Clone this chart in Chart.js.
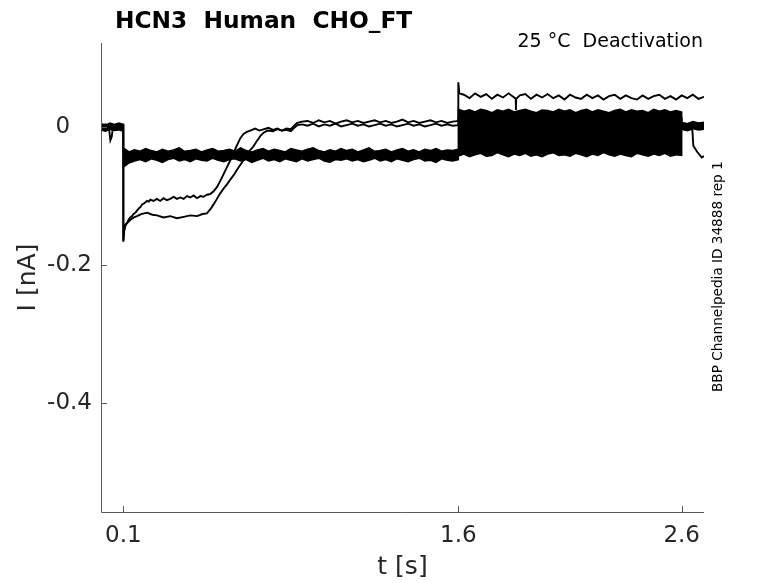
<!DOCTYPE html>
<html>
<head>
<meta charset="utf-8">
<script src="https://cdn.jsdelivr.net/npm/chart.js@4/dist/chart.umd.min.js"></script>
<style>
  html, body { margin: 0; padding: 0; background: #fff; overflow: hidden; }
</style>
</head>
<body>
<canvas id="trace" width="778" height="583"></canvas>
<script>
// tick labels
const xTicks = [0.1, 1.6, 2.6]
const yTicks = [0, -0.2, -0.4]

// sample times of the fast sweeps (s)
const tPre = [0, 0.02, 0.04, 0.06, 0.08, 0.1]
const tHold = [
    0.1, 0.125, 0.15, 0.175, 0.2, 0.225, 0.25, 0.275, 0.3, 0.325,
    0.35, 0.375, 0.4, 0.425, 0.45, 0.475, 0.5, 0.525, 0.55, 0.575,
    0.6, 0.625, 0.65, 0.675, 0.7, 0.725, 0.75, 0.775, 0.8, 0.825,
    0.85, 0.875, 0.9, 0.925, 0.95, 0.975, 1.0, 1.025, 1.05, 1.075,
    1.1, 1.125, 1.15, 1.175, 1.2, 1.225, 1.25, 1.275, 1.3, 1.325,
    1.35, 1.375, 1.4, 1.425, 1.45, 1.475, 1.5, 1.525, 1.55, 1.575, 1.6
]
const tTest = [
    1.6, 1.625, 1.65, 1.675, 1.7, 1.725, 1.75, 1.775, 1.8, 1.825,
    1.85, 1.875, 1.9, 1.925, 1.95, 1.975, 2.0, 2.025, 2.05, 2.075,
    2.1, 2.125, 2.15, 2.175, 2.2, 2.225, 2.25, 2.275, 2.3, 2.325,
    2.35, 2.375, 2.4, 2.425, 2.45, 2.475, 2.5, 2.525, 2.55, 2.575, 2.6
]
const tPost = [2.6, 2.625, 2.65, 2.675, 2.7]

// upper / lower edge of the bundle of fast sweeps (nA)
const upPre = [0.005, 0.003, 0.006, 0.004, 0.006, 0.004]
const loPre = [-0.004, -0.006, -0.003, -0.005, -0.004, -0.006]
const upHold = [
    -0.030, -0.036, -0.033, -0.035, -0.031, -0.034, -0.036, -0.032, -0.035, -0.033,
    -0.030, -0.035, -0.034, -0.032, -0.036, -0.033, -0.031, -0.035, -0.034, -0.032,
    -0.035, -0.030, -0.034, -0.036, -0.033, -0.031, -0.035, -0.032, -0.034, -0.036,
    -0.031, -0.033, -0.035, -0.032, -0.030, -0.034, -0.036, -0.033, -0.035, -0.031,
    -0.034, -0.032, -0.036, -0.033, -0.030, -0.035, -0.034, -0.032, -0.036, -0.033,
    -0.031, -0.035, -0.033, -0.036, -0.032, -0.034, -0.031, -0.035, -0.033, -0.034, -0.032
]
const loHold = [
    -0.058, -0.052, -0.049, -0.047, -0.050, -0.046, -0.048, -0.051, -0.047, -0.045,
    -0.049, -0.047, -0.050, -0.046, -0.048, -0.049, -0.045, -0.048, -0.050, -0.047,
    -0.046, -0.049, -0.047, -0.051, -0.048, -0.045, -0.049, -0.047, -0.050, -0.046,
    -0.048, -0.050, -0.046, -0.049, -0.047, -0.045, -0.049, -0.051, -0.047, -0.048,
    -0.046, -0.049, -0.047, -0.050, -0.048, -0.045, -0.049, -0.047, -0.050, -0.046,
    -0.048, -0.050, -0.047, -0.045, -0.049, -0.048, -0.051, -0.046, -0.048, -0.049, -0.047
]
const upTest = [
    0.026, 0.023, 0.025, 0.022, 0.026, 0.024, 0.021, 0.025, 0.023, 0.026,
    0.022, 0.024, 0.026, 0.023, 0.021, 0.025, 0.024, 0.022, 0.026, 0.023,
    0.025, 0.021, 0.024, 0.026, 0.022, 0.025, 0.023, 0.021, 0.024, 0.026,
    0.022, 0.025, 0.023, 0.024, 0.021, 0.026, 0.023, 0.025, 0.022, 0.024, 0.022
]
const loTest = [
    -0.042, -0.039, -0.043, -0.040, -0.038, -0.042, -0.041, -0.037, -0.040, -0.043,
    -0.039, -0.041, -0.038, -0.042, -0.040, -0.043, -0.039, -0.037, -0.041, -0.040,
    -0.042, -0.038, -0.040, -0.043, -0.039, -0.041, -0.037, -0.040, -0.042, -0.039,
    -0.041, -0.043, -0.038, -0.040, -0.042, -0.039, -0.041, -0.038, -0.042, -0.040, -0.041
]
const upPost = [0.007, 0.005, 0.008, 0.006, 0.007]
const loPost = [-0.003, -0.005, -0.002, -0.004, -0.003]

// slow sweeps, [t, I]
const sweepA = [
    [0, 0.002], [0.02, 0.004], [0.035, 0.001], [0.042, -0.019], [0.048, -0.014], [0.054, 0.001],
    [0.07, 0.004], [0.085, 0.001], [0.1, 0.003],
    [0.1, -0.166], [0.104, -0.150], [0.11, -0.142], [0.117, -0.139], [0.124, -0.134], [0.131, -0.131],
    [0.139, -0.129], [0.146, -0.126], [0.154, -0.124], [0.161, -0.121], [0.169, -0.118], [0.176, -0.116],
    [0.184, -0.112], [0.191, -0.111], [0.199, -0.109], [0.206, -0.107], [0.214, -0.108], [0.221, -0.105],
    [0.235, -0.107], [0.25, -0.104], [0.265, -0.107], [0.28, -0.103], [0.295, -0.106], [0.31, -0.104],
    [0.325, -0.101], [0.34, -0.104], [0.355, -0.102], [0.37, -0.104], [0.385, -0.100], [0.4, -0.102],
    [0.415, -0.099], [0.43, -0.103], [0.445, -0.100], [0.459, -0.101], [0.474, -0.098], [0.489, -0.097],
    [0.504, -0.093], [0.519, -0.087], [0.534, -0.078], [0.549, -0.068], [0.564, -0.058], [0.579, -0.048],
    [0.594, -0.037], [0.609, -0.026], [0.624, -0.016], [0.638, -0.010], [0.653, -0.007], [0.668, -0.005],
    [0.69, -0.002], [0.71, -0.005], [0.73, -0.003], [0.75, -0.001], [0.77, -0.004], [0.79, -0.002],
    [0.81, -0.005], [0.83, -0.002], [0.85, -0.003], [0.865, 0.002], [0.877, 0.006], [0.9, 0.008],
    [0.925, 0.009], [0.95, 0.006], [0.975, 0.010], [1.0, 0.007], [1.025, 0.009], [1.05, 0.005],
    [1.075, 0.008], [1.1, 0.010], [1.125, 0.007], [1.15, 0.009], [1.175, 0.006], [1.2, 0.008],
    [1.225, 0.010], [1.25, 0.007], [1.275, 0.009], [1.3, 0.006], [1.325, 0.008], [1.35, 0.011],
    [1.375, 0.007], [1.4, 0.009], [1.425, 0.006], [1.45, 0.008], [1.475, 0.010], [1.5, 0.007],
    [1.525, 0.009], [1.55, 0.006], [1.575, 0.008], [1.6, 0.009],
    [1.6, 0.065], [1.604, 0.049], [1.625, 0.047], [1.65, 0.042], [1.675, 0.049], [1.7, 0.044],
    [1.725, 0.048], [1.75, 0.041], [1.775, 0.047], [1.8, 0.043], [1.825, 0.049], [1.85, 0.043],
    [1.857, 0.041], [1.858, 0.025], [1.859, 0.041], [1.875, 0.046], [1.9, 0.048], [1.925, 0.041],
    [1.95, 0.047], [1.975, 0.043], [2.0, 0.048], [2.025, 0.042], [2.05, 0.046], [2.075, 0.040],
    [2.1, 0.047], [2.125, 0.043], [2.15, 0.041], [2.175, 0.047], [2.2, 0.042], [2.225, 0.046],
    [2.25, 0.040], [2.275, 0.045], [2.3, 0.047], [2.325, 0.041], [2.35, 0.046], [2.375, 0.042],
    [2.4, 0.040], [2.425, 0.046], [2.45, 0.041], [2.475, 0.045], [2.5, 0.047], [2.525, 0.041],
    [2.55, 0.045], [2.575, 0.040], [2.6, 0.046], [2.625, 0.042], [2.65, 0.047], [2.675, 0.041],
    [2.7, 0.044]
]
const sweepB = [
    [0, -0.002], [0.02, 0.001], [0.04, -0.003], [0.06, 0.000], [0.08, -0.002], [0.1, 0.001],
    [0.1, -0.165], [0.104, -0.148], [0.11, -0.141], [0.117, -0.139], [0.13, -0.135], [0.145, -0.131],
    [0.161, -0.129], [0.18, -0.126], [0.206, -0.124], [0.23, -0.127], [0.251, -0.128], [0.28, -0.131],
    [0.31, -0.129], [0.34, -0.132], [0.37, -0.130], [0.4, -0.128], [0.43, -0.129], [0.455, -0.126],
    [0.474, -0.125], [0.49, -0.119], [0.504, -0.112], [0.519, -0.104], [0.534, -0.096], [0.549, -0.089],
    [0.564, -0.083], [0.579, -0.076], [0.593, -0.070], [0.615, -0.059], [0.638, -0.048], [0.66, -0.036],
    [0.68, -0.029], [0.698, -0.020], [0.713, -0.013], [0.728, -0.008], [0.745, -0.005], [0.77, -0.006],
    [0.79, -0.003], [0.81, -0.005], [0.83, -0.004], [0.85, -0.006], [0.865, -0.001], [0.88, 0.003],
    [0.9, 0.004],
    [0.925, 0.002], [0.95, 0.005], [0.975, 0.001], [1.0, 0.004], [1.025, 0.002], [1.05, 0.005],
    [1.075, 0.001], [1.1, 0.003], [1.125, 0.005], [1.15, 0.002], [1.175, 0.004], [1.2, 0.001],
    [1.225, 0.003], [1.25, 0.005], [1.275, 0.002], [1.3, 0.004], [1.325, 0.001], [1.35, 0.003],
    [1.375, 0.005], [1.4, 0.002], [1.425, 0.004], [1.45, 0.001], [1.475, 0.003], [1.5, 0.005],
    [1.525, 0.002], [1.55, 0.004], [1.575, 0.002], [1.6, 0.003],
    [1.6, 0.012], [1.8, 0.014], [2.0, 0.011], [2.2, 0.013], [2.4, 0.012], [2.6, 0.013],
    [2.6, 0.002], [2.625, 0.004], [2.65, 0.001], [2.675, 0.003], [2.7, 0.002]
]
// sweep that drops after the return step
const sweepDrop = [
    [2.6, -0.002], [2.62, -0.004], [2.64, -0.003], [2.648, -0.004], [2.652, -0.027], [2.66, -0.031],
    [2.67, -0.036], [2.68, -0.040], [2.69, -0.044], [2.7, -0.042]
]

const AXIS_GRAY = '#5a5a5a'
const TEXT_GRAY = '#262626'
const FONT = '"DejaVu Sans", sans-serif'

function seg(ts, vs) {
    return ts.map((t, i) => ({ x: t, y: vs[i] }))
}

function pairs(list) {
    return list.map(p => ({ x: p[0], y: p[1] }))
}

const bandUpper = [].concat(seg(tPre, upPre), seg(tHold, upHold), seg(tTest, upTest), seg(tPost, upPost))
const bandLower = [].concat(seg(tPre, loPre), seg(tHold, loHold), seg(tTest, loTest), seg(tPost, loPost))

function trace(data, extra) {
    return Object.assign({
        data: data,
        borderColor: '#000',
        borderWidth: 1.9,
        pointRadius: 0,
        tension: 0,
        fill: false
    }, extra || {})
}

// inward ticks + MATLAB-like box-off axes, plus the free texts
const axesPlugin = {
    id: 'axes',
    afterDraw(chart) {
        const { ctx, chartArea: a, scales } = chart
        ctx.save()
        ctx.strokeStyle = AXIS_GRAY
        ctx.lineWidth = 1
        ctx.beginPath()
        ctx.moveTo(a.left + 0.5, a.top)
        ctx.lineTo(a.left + 0.5, a.bottom + 0.5)
        ctx.lineTo(a.right, a.bottom + 0.5)
        xTicks.forEach(v => {
            const px = Math.round(scales.x.getPixelForValue(v)) + 0.5
            ctx.moveTo(px, a.bottom)
            ctx.lineTo(px, a.bottom - 6)
        })
        yTicks.forEach(v => {
            const py = Math.round(scales.y.getPixelForValue(v)) + 0.5
            ctx.moveTo(a.left, py)
            ctx.lineTo(a.left + 6, py)
        })
        ctx.stroke()

        ctx.fillStyle = '#000'
        ctx.textBaseline = 'alphabetic'
        ctx.font = 'bold 23.3px ' + FONT
        ctx.textAlign = 'left'
        ctx.fillText('HCN3  Human  CHO_FT', 115, 27.5)

        ctx.font = '19px ' + FONT
        ctx.textAlign = 'right'
        ctx.fillText('25 °C  Deactivation', 703, 47)

        ctx.translate(721.5, 392)
        ctx.rotate(-Math.PI / 2)
        ctx.font = '13.6px ' + FONT
        ctx.textAlign = 'left'
        ctx.fillText('BBP Channelpedia ID 34888 rep 1', 0, 0)
        ctx.restore()
    }
}

new Chart(document.getElementById('trace'), {
    type: 'line',
    data: {
        datasets: [
            trace(bandUpper, { fill: '+1', backgroundColor: '#000', borderWidth: 1.5 }),
            trace(bandLower, { borderWidth: 1.5 }),
            trace(pairs(sweepA)),
            trace(pairs(sweepB)),
            trace(pairs(sweepDrop))
        ]
    },
    options: {
        responsive: false,
        animation: false,
        events: [],
        layout: { padding: { left: 0, right: 74, top: 43, bottom: 0 } },
        plugins: {
            legend: { display: false },
            title: { display: false },
            tooltip: { enabled: false }
        },
        scales: {
            x: {
                type: 'linear',
                min: 0,
                max: 2.7,
                afterBuildTicks: s => { s.ticks = xTicks.map(v => ({ value: v })) },
                afterFit: s => { s.height = 71 },
                grid: { display: false, drawTicks: false },
                border: { display: false },
                ticks: {
                    padding: 10,
                    color: TEXT_GRAY,
                    font: { family: FONT, size: 23 },
                    maxRotation: 0,
                    autoSkip: false,
                    callback: v => String(v)
                },
                title: {
                    display: true,
                    text: 't [s]',
                    color: TEXT_GRAY,
                    font: { family: FONT, size: 25 },
                    padding: { top: 0, bottom: 1 }
                }
            },
            y: {
                type: 'linear',
                min: -0.558,
                max: 0.122,
                afterBuildTicks: s => { s.ticks = yTicks.map(v => ({ value: v })) },
                afterFit: s => { s.width = 101 },
                grid: { display: false, drawTicks: false },
                border: { display: false },
                ticks: {
                    padding: 9,
                    color: TEXT_GRAY,
                    font: { family: FONT, size: 23 },
                    autoSkip: false,
                    // the zero label sits left of the others in the original
                    callback: v => (v === 0 ? '0   ' : String(v))
                },
                title: {
                    display: true,
                    text: 'I [nA]',
                    color: TEXT_GRAY,
                    font: { family: FONT, size: 25 },
                    padding: { top: 13, bottom: 0 }
                }
            }
        }
    },
    plugins: [axesPlugin]
})
</script>
</body>
</html>
